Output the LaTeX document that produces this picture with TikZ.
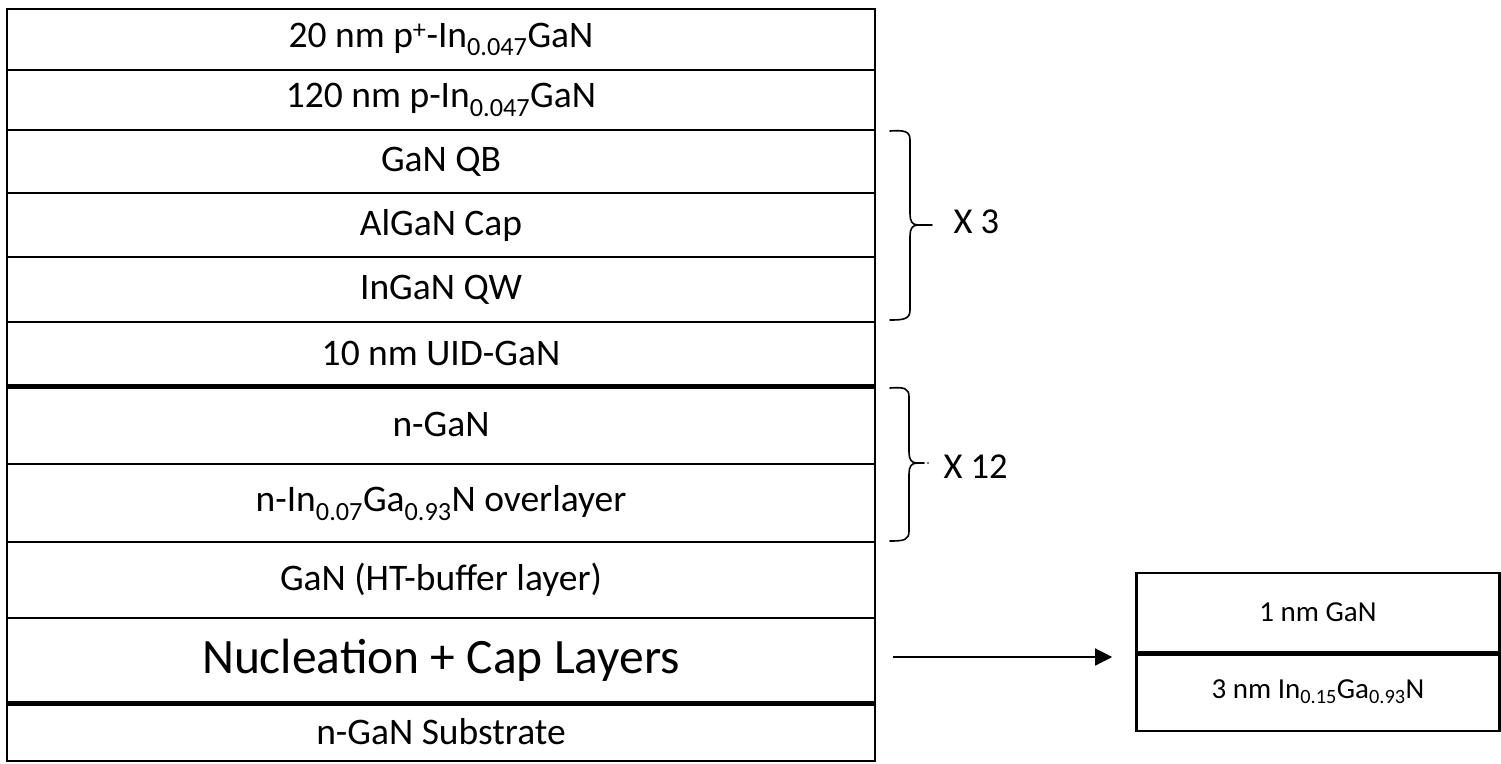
\documentclass[tikz,border=0pt]{standalone}
\usepackage{fontspec}
\setmainfont{Carlito}
\usetikzlibrary{arrows.meta}
\tikzset{
  layer/.style={draw, line width=2.6pt, minimum width=868pt, inner sep=0pt, font=\fontsize{37.5}{42}\selectfont},
  small/.style={draw, line width=2.6pt, minimum width=363pt, inner sep=0pt, font=\fontsize{29}{34}\selectfont},
  brace/.style={line width=1.6pt, line cap=round},
  mult/.style={font=\fontsize{36.5}{42}\selectfont, anchor=west},
  arr/.style={line width=1.3pt, -{Triangle[length=17pt,width=17pt]}},
}
\begin{document}
\begin{tikzpicture}[x=1pt,y=-1pt]
\useasboundingbox (0,0) rectangle (1501,763);
% main stack (top, bottom)
\node[layer, minimum height=61pt] (l1) at (441,39.5) {20 nm p\textsuperscript{+}-In\textsubscript{0.047}GaN};
\node[layer, minimum height=60pt] (l2) at (441,100) {120 nm p-In\textsubscript{0.047}GaN};
\node[layer, minimum height=63pt] (l3) at (441,161.5) {GaN QB};
\node[layer, minimum height=64pt] (l4) at (441,225) {AlGaN Cap};
\node[layer, minimum height=65pt] (l5) at (441,289.5) {InGaN QW};
\node[layer, minimum height=63pt] (l6) at (441,353.5) {10 nm UID-GaN};
\node[layer, minimum height=79pt] (l7) at (441,424.5) {n-GaN};
\node[layer, minimum height=78pt] (l8) at (441,503) {n-In\textsubscript{0.07}Ga\textsubscript{0.93}N overlayer};
\node[layer, minimum height=76pt] (l9) at (441,580) {GaN (HT-buffer layer)};
\node[layer, minimum height=84pt, font=\fontsize{49.5}{56}\selectfont] (l10) at (441,660) {Nucleation + Cap Layers};
\node[layer, minimum height=59pt] (l11) at (441,731.5) {n-GaN Substrate};
% thicker joints
\draw[line width=4.5pt] (l6.south west) -- (l6.south east);
\draw[line width=4.5pt] (l10.south west) -- (l10.south east);
% braces
\draw[brace] (890,131) .. controls (904,130) and (910,131) .. (910,140) -- (910,214)
  .. controls (910,221) and (912,225) .. (918,225) -- (932,225);
\draw[brace] (918,225) .. controls (912,225) and (910,229) .. (910,236) -- (910,310)
  .. controls (910,319) and (904,320) .. (890,320);
\node[mult] (x3) at (950,222) {X 3};
\draw[brace] (890,388) .. controls (904,387) and (909,388) .. (909,397) -- (909,452)
  .. controls (909,459) and (911,463) .. (917,463) -- (924,463);
\fill (928,463) circle (0.9pt);
\draw[brace] (917,463) .. controls (911,463) and (909,467) .. (909,474) -- (909,531)
  .. controls (909,540) and (904,541) .. (890,541);
\node[mult] (x12) at (940,467) {X 12};
% detail box
\node[small, minimum height=79pt] (r1) at (1318,612.5) {1 nm GaN};
\node[small, minimum height=79pt] (r2) at (1318,691.5) {3 nm In\textsubscript{0.15}Ga\textsubscript{0.93}N};
\draw[line width=4.5pt] (r1.south west) -- (r1.south east);
% arrow
\coordinate (a1) at (893,657);
\draw[arr, shorten >=23pt] (a1) -- (a1 -| r2.west);
\end{tikzpicture}
\end{document}
